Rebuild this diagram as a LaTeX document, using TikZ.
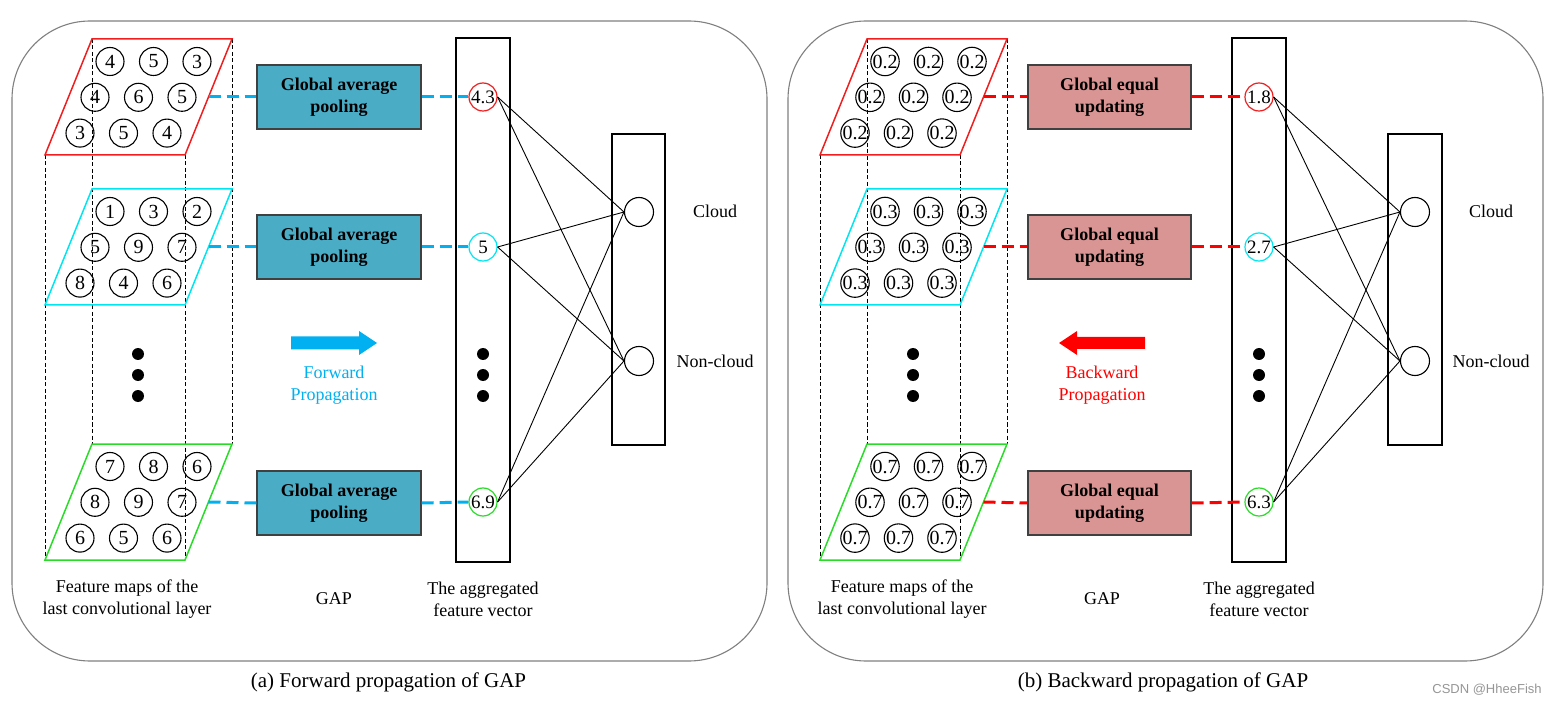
\documentclass[tikz,border=0pt]{standalone}
\usepackage{fontspec}
\setmainfont{Liberation Serif}
\newfontfamily\wmfont{Liberation Sans}
\usetikzlibrary{arrows.meta}
\definecolor{gapblue}{RGB}{75,172,198}
\definecolor{fwdblue}{RGB}{0,176,240}
\definecolor{eqpink}{RGB}{217,149,148}
\definecolor{mapred}{RGB}{240,30,30}
\definecolor{mapcyan}{RGB}{0,230,240}
\definecolor{mapgreen}{RGB}{40,220,40}
\definecolor{panelgray}{RGB}{128,128,128}
\definecolor{wmgray}{RGB}{150,150,150}
\tikzset{
  fmc/.style={circle, draw=black, line width=1.1pt, minimum size=28pt, inner sep=0pt, font=\fontsize{20}{22}\selectfont},
  vc/.style={circle, line width=1.2pt, minimum size=28pt, inner sep=0pt, font=\fontsize{19}{22}\selectfont},
  oc/.style={circle, draw=black, line width=1.1pt, minimum size=29pt, inner sep=0pt},
  colbox/.style={draw=black!75, line width=1.3pt, minimum width=164pt, minimum height=64pt, align=center, font=\bfseries\fontsize{18}{22}\selectfont},
  lab/.style={align=center, font=\fontsize{18}{22}\selectfont},
  captxt/.style={font=\fontsize{21}{25}\selectfont},
  guide/.style={line width=0.8pt, dash pattern=on 4pt off 2.5pt},
  fwdcon/.style={fwdblue, line width=3pt, dash pattern=on 12pt off 6pt},
  bwdcon/.style={red, line width=3pt, dash pattern=on 12pt off 6pt},
  link/.style={line width=0.9pt},
  frame/.style={draw=panelgray, line width=1.1pt, rounded corners=78pt},
  vbox/.style={draw=black, line width=1.1pt}
}
% name, dx, ytop, colour, values
\newcommand\fmap[5]{%
  \draw[#4, line width=1.5pt] ({45+#2},{#3+116}) -- ({92+#2},{#3}) -- ({232+#2},{#3}) -- ({185+#2},{#3+116}) -- cycle;
  \coordinate (#1-e) at ({208.5+#2},{#3+58});
  \foreach \v [count=\i from 0] in {#5} {%
    \pgfmathtruncatemacro\rr{floor(\i/3)}%
    \pgfmathtruncatemacro\cc{mod(\i,3)}%
    \node[fmc] (#1-\i) at ({110+#2-15*\rr+43.5*\cc},{#3+22.5+35.8*\rr}) {\v};
  }%
}
\newcommand\guides[1]{%
  \draw[guide] ({45+#1},155) -- ({45+#1},560);
  \draw[guide] ({185+#1},155) -- ({185+#1},560);
  \draw[guide] ({92+#1},39) -- ({92+#1},444);
  \draw[guide] ({232+#1},39) -- ({232+#1},444);
  \fill ({138+#1},354) circle (6pt) ({138+#1},375) circle (6pt) ({138+#1},396) circle (6pt);
}
\begin{document}
\begin{tikzpicture}[x=1pt,y=-1pt]
\useasboundingbox (0,0) rectangle (1556,703);
\fill[white] (0,0) rectangle (1556,703);

% ---------------- panel frames
\draw[frame] (12,21) rectangle (767,661);
\draw[frame] (788,21) rectangle (1543,661);

% ================= panel (a)
\guides{0}
\fmap{ar}{0}{39}{mapred}{4,5,3,4,6,5,3,5,4}
\fmap{ac}{0}{189}{mapcyan}{1,3,2,5,9,7,8,4,6}
\fmap{ag}{0}{444}{mapgreen}{7,8,6,8,9,7,6,5,6}

\node[colbox, fill=gapblue] (ab1) at (339,97) {Global average\\pooling};
\node[colbox, fill=gapblue] (ab2) at (339,247) {Global average\\pooling};
\node[colbox, fill=gapblue] (ab3) at (339,503) {Global average\\pooling};

\draw[vbox] (456,38) rectangle (510,562);
\node[vc, draw=mapred] (av1) at (483,97) {4.3};
\node[vc, draw=mapcyan] (av2) at (483,247) {5};
\node[vc, draw=mapgreen] (av3) at (483,502) {6.9};
\fill (483,354) circle (6pt) (483,375) circle (6pt) (483,396) circle (6pt);

\draw[vbox] (612,134) rectangle (665,445);
\node[oc] (ao1) at (639,212) {};
\node[oc] (ao2) at (639,361) {};
\node[lab] (acl) at (715,211) {Cloud};
\node[lab] (anc) at (715,361) {Non-cloud};

\draw[fwdcon] (ar-e) -- (ab1.west);
\draw[fwdcon] (ab1.east) -- (av1.west);
\draw[fwdcon] (ac-e) -- (ab2.west);
\draw[fwdcon] (ab2.east) -- (av2.west);
\draw[fwdcon] (ag-e) -- (ab3.west);
\draw[fwdcon] (ab3.east) -- (av3.west);

\foreach \s in {av1,av2,av3} {
  \draw[link] (\s.east) -- (ao1.west);
  \draw[link] (\s.east) -- (ao2.west);
}

\fill[fwdblue] (291,336.5) -- (359,336.5) -- (359,331) -- (377,343) -- (359,355) -- (359,349.5) -- (291,349.5) -- cycle;
\node[lab, text=fwdblue] (afw) at (334,385.5) {Forward\\Propagation};

\node[lab] (afm) at (127,599) {Feature maps of the\\last convolutional layer};
\node[lab] (agap) at (334,599) {GAP};
\node[lab] (aagg) at (483,599) {The aggregated\\feature vector};
\node[captxt] (acap) at (388.5,682) {(a) Forward propagation of GAP};

% ================= panel (b)
\guides{775}
\fmap{br}{775}{39}{mapred}{0.2,0.2,0.2,0.2,0.2,0.2,0.2,0.2,0.2}
\fmap{bc}{775}{189}{mapcyan}{0.3,0.3,0.3,0.3,0.3,0.3,0.3,0.3,0.3}
\fmap{bg}{775}{444}{mapgreen}{0.7,0.7,0.7,0.7,0.7,0.7,0.7,0.7,0.7}

\node[colbox, fill=eqpink, minimum width=163pt] (bb1) at (1109.5,97) {Global equal\\updating};
\node[colbox, fill=eqpink, minimum width=163pt] (bb2) at (1109.5,247) {Global equal\\updating};
\node[colbox, fill=eqpink, minimum width=163pt] (bb3) at (1109.5,503) {Global equal\\updating};

\draw[vbox] (1232,38) rectangle (1286,562);
\node[vc, draw=mapred] (bv1) at (1259,97) {1.8};
\node[vc, draw=mapcyan] (bv2) at (1259,247) {2.7};
\node[vc, draw=mapgreen] (bv3) at (1259,502) {6.3};
\fill (1259,354) circle (6pt) (1259,375) circle (6pt) (1259,396) circle (6pt);

\draw[vbox] (1388,134) rectangle (1442,445);
\node[oc] (bo1) at (1415,212) {};
\node[oc] (bo2) at (1415,361) {};
\node[lab] (bcl) at (1491,211) {Cloud};
\node[lab] (bnc) at (1491,361) {Non-cloud};

\draw[bwdcon] (br-e) -- (bb1.west);
\draw[bwdcon] (bb1.east) -- (bv1.west);
\draw[bwdcon] (bc-e) -- (bb2.west);
\draw[bwdcon] (bb2.east) -- (bv2.west);
\draw[bwdcon] (bg-e) -- (bb3.west);
\draw[bwdcon] (bb3.east) -- (bv3.west);

\foreach \s in {bv1,bv2,bv3} {
  \draw[link] (\s.east) -- (bo1.west);
  \draw[link] (\s.east) -- (bo2.west);
}

\fill[red] (1145,337) -- (1077,337) -- (1077,331) -- (1059,343) -- (1077,355) -- (1077,349) -- (1145,349) -- cycle;
\node[lab, text=red] (bbw) at (1102,385.5) {Backward\\Propagation};

\node[lab] (bfm) at (902,599) {Feature maps of the\\last convolutional layer};
\node[lab] (bgap) at (1102,599) {GAP};
\node[lab] (bagg) at (1259,599) {The aggregated\\feature vector};
\node[captxt] (bcap) at (1163,682) {(b) Backward propagation of GAP};

\node[text=wmgray, font=\wmfont\fontsize{13}{15}\selectfont] (wm) at (1487,690) {CSDN @HheeFish};
\end{tikzpicture}
\end{document}
